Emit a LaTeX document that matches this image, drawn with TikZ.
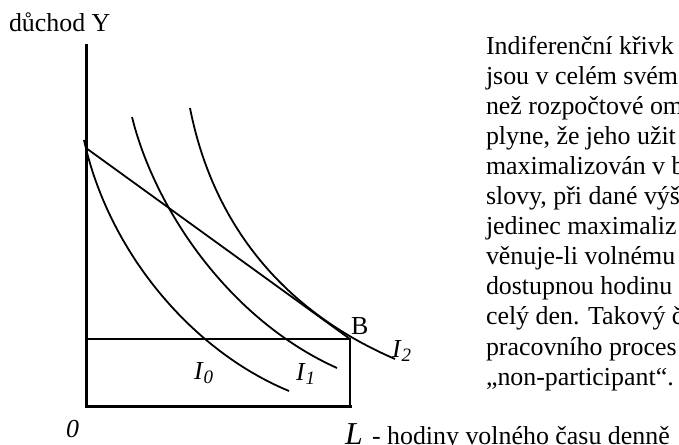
\documentclass[tikz,border=0pt]{standalone}
\usepackage{fontspec}
\setmainfont{Liberation Serif}
\newcommand\txtsize{\fontsize{26}{30}\selectfont}
\newcommand\Ilab[1]{\textit{I}\raisebox{-4.5bp}{\fontsize{19}{19}\selectfont\textit{#1}}}
\tikzset{
  axisline/.style={line width=3bp, line cap=rect},
  curveline/.style={line width=1.8bp},
  boxline/.style={line width=1.6bp},
  lbl/.style={inner sep=0pt, outer sep=0pt, anchor=base west, font=\txtsize},
  para/.style={inner sep=0pt, outer sep=0pt, anchor=base west, font=\txtsize},
}
\begin{document}
\begin{tikzpicture}[x=1bp,y=-1bp]
\useasboundingbox (0,0) rectangle (679,445);
% coordinates
\coordinate (top) at (86,46);
\coordinate (O) at (86,406);
\coordinate (Lend) at (350,406);
\coordinate (A) at (86,148);
\coordinate (B) at (350,339);
\coordinate (H) at (86,339);
\coordinate (i0s) at (84,140);
\coordinate (i0e) at (289,391);
\coordinate (i1s) at (132,117);
\coordinate (i1e) at (337,368);
\coordinate (i2s) at (190,108);
\coordinate (i2e) at (395,359);
% axes
\draw[axisline] (top) -- (O) -- (Lend);
% box
\draw[boxline] (H) -- (B) -- (Lend);
% budget line
\draw[curveline] (A) -- (B);
% indifference curves
\draw[curveline] (i0s) .. controls (108,250) and (190,350) .. (i0e);
\draw[curveline] (i1s) .. controls (155,210) and (230,320) .. (i1e);
\draw[curveline] (i2s) .. controls (210,210) and (270,305) .. (i2e);
% labels
\node[lbl] (ylab) at (9,32) {důchod Y};
\node[lbl] (zero) at (66,437) {\textit{0}};
\node[lbl] (Blab) at (351,335) {B};
\node[lbl] (I0lab) at (194,379) {\Ilab{0}};
\node[lbl] (I1lab) at (296,380) {\Ilab{1}};
\node[lbl] (I2lab) at (392,357) {\Ilab{2}};
\node[lbl, font=\fontsize{32}{32}\selectfont] (Llab) at (345,444) {\textit{L}};
\node[lbl] (Ltext) at (372,444) {- hodiny volného času denně};
% paragraph
\node[para] (p1) at (486,55) {Indiferenční křivk};
\node[para] (p2) at (486,85) {jsou v celém svém};
\node[para] (p3) at (486,115) {než rozpočtové om};
\node[para] (p4) at (486,145) {plyne, že jeho užit};
\node[para] (p5) at (486,175) {maximalizován v b};
\node[para] (p6) at (486,205) {slovy, při dané výš};
\node[para] (p7) at (486,235) {jedinec maximaliz};
\node[para] (p8) at (486,265) {věnuje-li volnému};
\node[para] (p9) at (486,295) {dostupnou hodinu};
\node[para] (p10) at (486,325) {celý den. Takový č};
\node[para] (p11) at (486,355) {pracovního proces};
\node[para] (p12) at (486,385) {„non-participant“.};
\end{tikzpicture}
\end{document}
